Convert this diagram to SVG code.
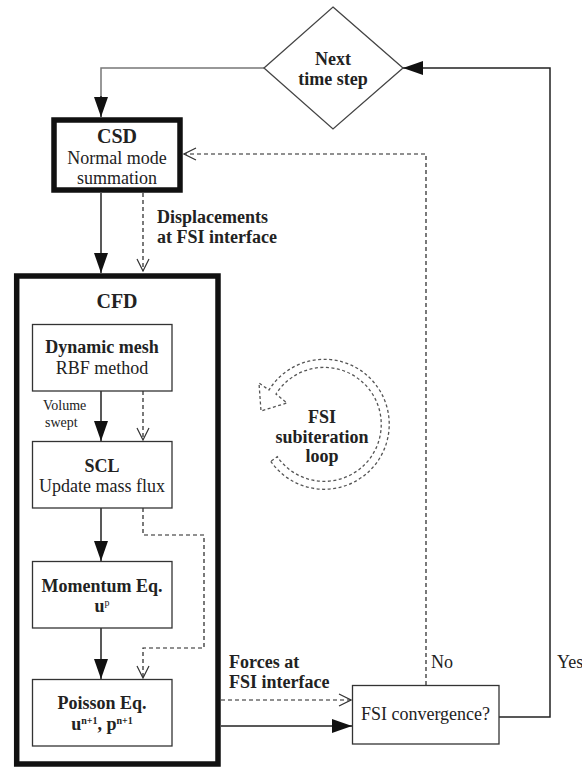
<svg xmlns="http://www.w3.org/2000/svg" width="582" height="767" viewBox="0 0 582 767">
<style>
  text { font-family: "Liberation Serif", "Times New Roman", serif; fill: #222; font-size: 18px; }
  .b { font-weight: bold; }
  .c { text-anchor: middle; }
  .small { font-size: 14px; }
  .sup { font-size: 10px; }
  .box { fill: #fff; stroke: #333; stroke-width: 1.3; }
  .thick { fill: #fff; stroke: #111; stroke-width: 5.5; }
  .solid { fill: none; stroke: #222; stroke-width: 1.5; }
  .gray { fill: none; stroke: #777; stroke-width: 1.5; }
  .dash { fill: none; stroke: #222; stroke-width: 1.2; stroke-dasharray: 4 3; }
  .loop { fill: none; stroke: #555; stroke-width: 1.3; stroke-dasharray: 3 2.5; }
</style>
<defs>
  <marker id="fill" markerWidth="20" markerHeight="14" refX="20" refY="7" orient="auto" markerUnits="userSpaceOnUse">
    <path d="M0,0 L20,7 L0,14 Z" fill="#111"/>
  </marker>
  <marker id="open" markerWidth="14" markerHeight="14" refX="13" refY="7" orient="auto" markerUnits="userSpaceOnUse">
    <path d="M1,1 L13,7 L1,13" fill="none" stroke="#333" stroke-width="1.2"/>
  </marker>
</defs>

<g id="cfd">
  <rect class="thick" x="16.7" y="276" width="201.3" height="488"/>
  <text class="b c" x="117" y="308" style="font-size:20px">CFD</text>
</g>

<g id="connectors">
  <path class="gray" d="M264,68 H101 V97"/>
  <path class="solid" d="M101,96 V117" marker-end="url(#fill)"/>
  <path class="solid" d="M101,193 V273" marker-end="url(#fill)"/>
  <path class="dash" d="M143,193 V271" marker-end="url(#open)"/>
  <path class="solid" d="M101,391 V441" marker-end="url(#fill)"/>
  <path class="dash" d="M143,391 V440" marker-end="url(#open)"/>
  <path class="solid" d="M101,508 V561" marker-end="url(#fill)"/>
  <path class="solid" d="M101,628 V679" marker-end="url(#fill)"/>
  <path class="dash" d="M143,508 V535 H204 V648 H143 V678" marker-end="url(#open)"/>
  <path class="dash" d="M221,700 H351" marker-end="url(#open)"/>
  <path class="solid" d="M221,726 H352" marker-end="url(#fill)"/>
  <path class="dash" d="M426,685 V154 H184" marker-end="url(#open)"/>
  <path class="solid" d="M499,717 H550 V68 H403" marker-end="url(#fill)"/>
</g>

<g id="next-time-step">
  <polygon points="333,7 403,68 333,129 264,68" fill="#fff" stroke="#444" stroke-width="1.3"/>
  <text class="b c" x="333" y="65">Next</text>
  <text class="b c" x="333" y="85">time step</text>
</g>

<g id="csd">
  <rect class="thick" x="54" y="120" width="126" height="70"/>
  <text class="b c" x="117" y="143" style="font-size:20px">CSD</text>
  <text class="c" x="117" y="164">Normal mode</text>
  <text class="c" x="117" y="184">summation</text>
</g>

<g id="displacements-label">
  <text class="b" x="157" y="223">Displacements</text>
  <text class="b" x="157" y="243">at FSI interface</text>
</g>

<g id="dynamic-mesh">
  <rect class="box" x="32.5" y="324.5" width="139.5" height="66.5"/>
  <text class="b c" x="102" y="353">Dynamic mesh</text>
  <text class="c" x="102" y="374">RBF method</text>
</g>

<g id="volume-swept-label">
  <text class="small" x="43" y="410">Volume</text>
  <text class="small" x="45" y="427">swept</text>
</g>

<g id="scl">
  <rect class="box" x="32.5" y="441.5" width="139.5" height="66.5"/>
  <text class="b c" x="102" y="472">SCL</text>
  <text class="c" x="102" y="492">Update mass flux</text>
</g>

<g id="momentum">
  <rect class="box" x="32.5" y="561.5" width="139.5" height="66.5"/>
  <text class="b c" x="102" y="592">Momentum Eq.</text>
  <text class="b c" x="102" y="612">u<tspan class="sup" dy="-6" style="font-weight:normal">p</tspan></text>
</g>

<g id="poisson">
  <rect class="box" x="32.5" y="679.5" width="139.5" height="66.5"/>
  <text class="b c" x="102" y="709">Poisson Eq.</text>
  <text class="b c" x="102" y="730">u<tspan class="sup" dy="-6">n+1</tspan><tspan dy="6">, p</tspan><tspan class="sup" dy="-6">n+1</tspan></text>
</g>

<g id="forces-label">
  <text class="b" x="229" y="668">Forces at</text>
  <text class="b" x="229" y="688">FSI interface</text>
</g>

<g id="fsi-convergence">
  <rect class="box" x="352.5" y="685.5" width="146.5" height="58.5"/>
  <text class="c" x="425.5" y="720">FSI convergence?</text>
</g>

<g id="no-label"><text x="431" y="668">No</text></g>
<g id="yes-label"><text x="557" y="668">Yes</text></g>

<g id="fsi-loop">
  <path class="loop" d="M270.8,461.3 A65,65 0 1 0 269,390 L259,383 L261,411 L287,403 L276,394 A57,57 0 1 1 277.3,456.7 Z"/>
  <text class="b c" x="322" y="423">FSI</text>
  <text class="b c" x="322" y="443">subiteration</text>
  <text class="b c" x="322" y="462">loop</text>
</g>
</svg>
